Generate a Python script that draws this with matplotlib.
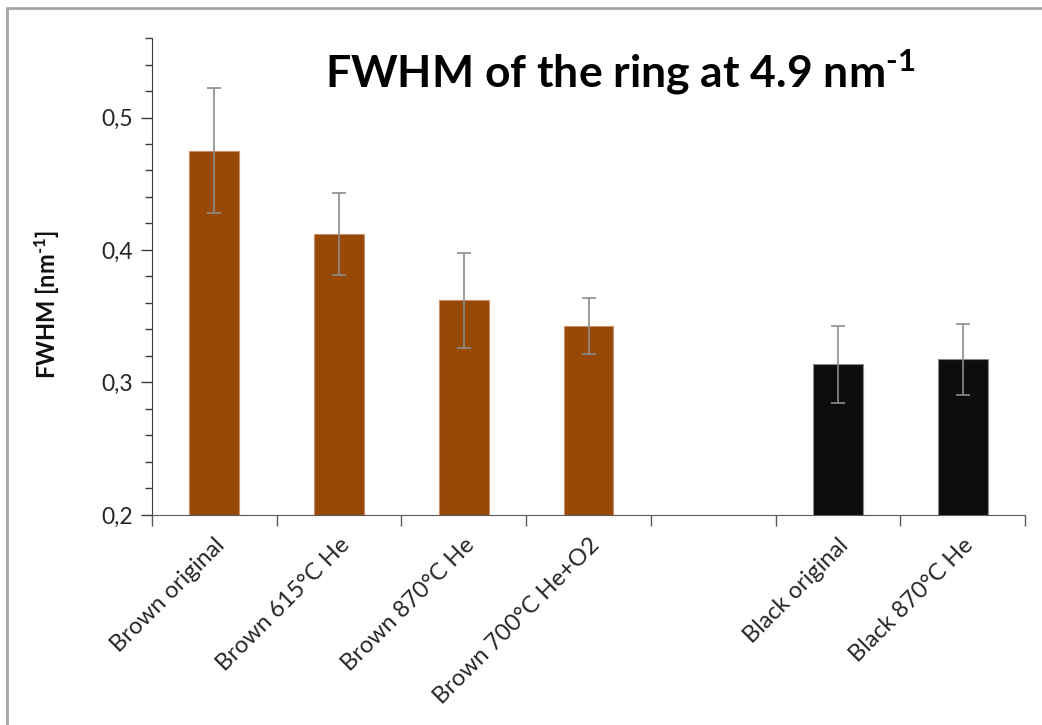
import matplotlib
matplotlib.use("Agg")
import matplotlib.pyplot as plt
import numpy as np
from matplotlib.patches import Rectangle
from matplotlib.ticker import MultipleLocator, FixedLocator, NullFormatter

categories = ["Brown original", "Brown 615°C He", "Brown 870°C He", "Brown 700°C He+O2",
              "", "Black original", "Black 870°C He"]
values = [0.475, 0.412, 0.362, 0.3425, np.nan, 0.3136, 0.3174]
errors = [0.047, 0.031, 0.036, 0.021, np.nan, 0.029, 0.027]
colors = ["#984807", "#984807", "#984807", "#984807", "#984807", "#0D0D0D", "#0D0D0D"]
edgecolors = ["#C8906A", "#C8906A", "#C8906A", "#C8906A", "#C8906A", "#8A8A8A", "#8A8A8A"]
y_ticks = [0.2, 0.3, 0.4, 0.5]
y_ticklabels = ["0,2", "0,3", "0,4", "0,5"]

plt.rcParams['font.family'] = ['Lato', 'DejaVu Sans']
plt.rcParams['mathtext.fontset'] = 'custom'
plt.rcParams['mathtext.rm'] = 'Lato'
plt.rcParams['mathtext.bf'] = 'Lato:bold'
plt.rcParams['mathtext.default'] = 'regular'

fig = plt.figure(figsize=(10.42, 7.25), dpi=100)
ax = fig.add_axes([152/1042, 1-515/725, (1025-152)/1042, (515-38)/725])

x = np.arange(len(categories))
ax.bar(x, values, width=0.4, color=colors, edgecolor=edgecolors, linewidth=0.8, zorder=2)
ax.errorbar(x, values, yerr=errors, fmt='none', ecolor='#8C8C8C', elinewidth=1.2,
            capsize=4.7, capthick=1.2, zorder=3)

ax.set_xlim(-0.5, len(categories) - 0.5)
ax.set_ylim(0.2, 0.56)

ax.spines['top'].set_visible(False)
ax.spines['right'].set_visible(False)
ax.spines['left'].set_color('#3a3a3a')
ax.spines['bottom'].set_color('#5a5a5a')

ax.yaxis.set_major_locator(FixedLocator(y_ticks))
ax.set_yticklabels(y_ticklabels, fontsize=16.5, color='#262626')
ax.yaxis.set_minor_locator(MultipleLocator(0.02))
ax.tick_params(axis='y', which='major', direction='out', length=8, width=1, color='#3a3a3a', pad=6)
ax.tick_params(axis='y', which='minor', direction='out', length=5, width=1, color='#3a3a3a')

ax.set_xticks(x)
ax.set_xticklabels(categories, rotation=45, ha='right', rotation_mode='anchor',
                   fontsize=17, color='#262626')
ax.tick_params(axis='x', which='major', length=0, pad=14)
ax.xaxis.set_minor_locator(FixedLocator(np.arange(-0.5, len(categories), 1.0)))
ax.xaxis.set_minor_formatter(NullFormatter())
ax.tick_params(axis='x', which='minor', direction='out', length=8, width=1, color='#5a5a5a')

fig.text(47/1042, 1-304/725, "FWHM [nm$^{\u20101}$]", rotation=90, ha='center', va='center',
         fontsize=17, fontweight='bold', color='#111111')

fig.text(620/1042, 1-72/725, "FWHM of the ring at 4.9 nm$^{\u20101}$", ha='center', va='center',
         fontsize=32, fontweight='bold', color='#000000')

fig.patches.append(Rectangle((7/1042, -0.1), 1.2, 1-8/725+0.1, transform=fig.transFigure,
                             fill=False, edgecolor='#A6A6A6', linewidth=2))

fig.savefig("out.png", dpi=100)
